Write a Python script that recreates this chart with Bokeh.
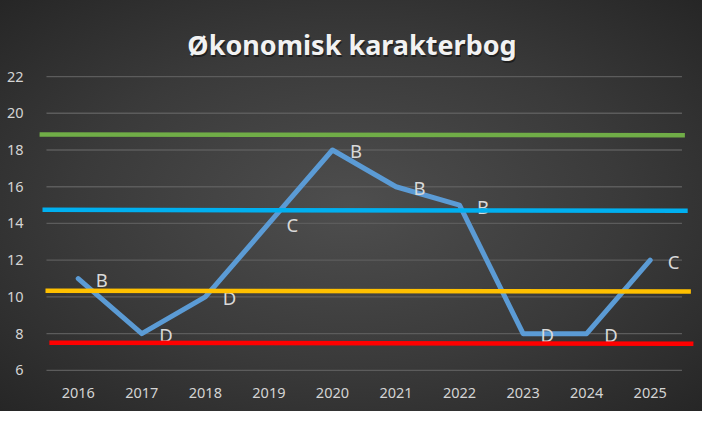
from bokeh.plotting import figure
from bokeh.models import Range1d, FixedTicker, Label
from bokeh.core.properties import value
from bokeh.embed import file_html
from bokeh.resources import INLINE

# ---- data ----
years = ["2016", "2017", "2018", "2019", "2020", "2021", "2022", "2023", "2024", "2025"]
scores = [11, 8, 10, 14, 18, 16, 15, 8, 8, 12]
grades = ["B", "D", "D", "C", "B", "B", "B", "D", "D", "C"]
y_ticks = [6, 8, 10, 12, 14, 16, 18, 20, 22]

# threshold lines (hand drawn shapes in the original): start/end x (category units) and levels
thr_colors = ["#70AD47", "#00B0F0", "#FFC000", "#FF0000"]
thr_x0 = [-0.108, -0.062, -0.015, 0.046]
thr_x1 = [10.046, 10.09, 10.14, 10.18]
thr_y0 = [18.84, 14.74, 10.34, 7.51]
thr_y1 = [18.80, 14.69, 10.29, 7.45]

title_text = "Økonomisk karakterbog"

# ---- figure ----
W, H = 702, 411
p = figure(width=W, height=H, output_backend="svg", toolbar_location=None,
           x_range=Range1d(-0.141, 10.323),
           y_range=Range1d(5.885, 26.14),
           min_border_left=37, min_border_right=0, min_border_top=0, min_border_bottom=39)
p.border_fill_color = None
p.background_fill_color = None
p.outline_line_color = None
p.styles = {"background": "radial-gradient(ellipse farthest-corner at 50% 50%, #4e4e4e 0%, #3a3a3a 55%, #262626 100%)"}
p.xgrid.visible = False
p.ygrid.visible = False

xs = [i + 0.5 for i in range(len(years))]

# axes
for ax in (p.xaxis[0], p.yaxis[0]):
    ax.axis_line_color = None
    ax.major_tick_line_color = None
    ax.minor_tick_line_color = None
    ax.major_label_text_font = "Noto Sans"
    ax.major_label_text_font_size = "14.5px"
    ax.major_label_text_color = "#d4d4d4"
p.xaxis.ticker = FixedTicker(ticks=xs)
p.xaxis.major_label_overrides = {x: y for x, y in zip(xs, years)}
p.xaxis.major_label_standoff = 9
p.yaxis.ticker = FixedTicker(ticks=y_ticks)
p.yaxis.major_label_standoff = 8

# gridlines limited to the plot area (0..10)
p.segment(x0=[0] * len(y_ticks), x1=[len(years)] * len(y_ticks), y0=y_ticks, y1=y_ticks,
          line_color="#5c5c5c", line_width=1.3)

# data line
p.line(xs, scores, line_color="#5B9BD5", line_width=5, line_join="round", line_cap="round")

# data labels
p.text(xs, scores, text=grades, x_offset=17.5, y_offset=1, text_align="left", text_baseline="middle",
       text_font=value("Noto Sans"), text_font_size="18.5px", text_color="#d9d9d9")

# threshold lines
p.segment(x0=thr_x0, x1=thr_x1, y0=thr_y0, y1=thr_y1, line_color=thr_colors, line_width=4.5)

# title with soft shadow
tx, ty = (359.5 - 47) / 65, 23.76
shadow = Label(x=tx, y=ty, text=title_text, text_align="center",
               text_baseline="alphabetic", text_font="Noto Sans", text_font_style="bold",
               text_font_size="27px", text_color="#000000", text_alpha=0.45, x_offset=1, y_offset=-2)
title = Label(x=tx, y=ty, text=title_text, text_align="center",
              text_baseline="alphabetic", text_font="Noto Sans", text_font_style="bold",
              text_font_size="27px", text_color="#f2f2f2")
p.add_layout(shadow)
p.add_layout(title)

open("out.html", "w").write(file_html(p, INLINE))
